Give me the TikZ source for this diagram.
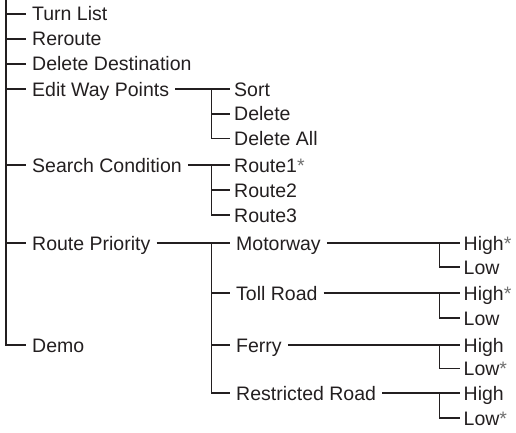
\documentclass[tikz,border=0pt]{standalone}
\usepackage{fontspec}
\setmainfont{Liberation Sans}
\definecolor{ink}{HTML}{231F20}
\definecolor{star}{HTML}{707070}
\newcommand{\mystar}{\textcolor{star}{*}}
\tikzset{
  lbl/.style={anchor=west, inner ysep=0pt, inner xsep=6pt, text height=14pt, text depth=0pt,
              font=\fontsize{19.5}{22}\selectfont, text=ink},
  lblb/.style={lbl, inner xsep=4pt},
  lblc/.style={lbl, inner xsep=3.5pt},
  wire/.style={draw=ink, line width=1.2pt},
}
\begin{document}
\begin{tikzpicture}[x=1pt,y=-1pt]
\useasboundingbox (0,0) rectangle (516,433);
% level 0
\node[lbl] (tl)   at (26,14)  {Turn List};
\node[lbl] (rr)   at (26,39)  {Reroute};
\node[lbl] (dd)   at (26,64)  {Delete Destination};
\node[lbl] (ewp)  at (26,89)  {Edit Way Points};
\node[lbl] (sc)   at (26,165) {Search Condition};
\node[lbl] (rp)   at (26,243) {Route Priority};
\node[lbl] (demo) at (26,345) {Demo};
% level 1
\node[lblb] (sort)   at (230,89)  {Sort};
\node[lblb] (del)    at (230,114) {Delete};
\node[lblb] (delall) at (230,138.5) {Delete All};
\node[lblb] (r1)     at (230,165) {Route1\mystar};
\node[lblb] (r2)     at (230,190) {Route2};
\node[lblb] (r3)     at (230,215) {Route3};
\node[lbl] (mw)  at (230,243) {Motorway};
\node[lbl] (toll) at (230,293) {Toll Road};
\node[lbl] (fer) at (230,345) {Ferry};
\node[lbl] (res) at (230,393) {Restricted Road};
% level 2
\node[lblc] (mwh) at (460,243) {High\mystar};
\node[lblc] (mwl) at (460,267) {Low};
\node[lblc] (toh) at (460,293) {High\mystar};
\node[lblc] (tol) at (460,318) {Low};
\node[lblc] (feh) at (460,345) {High};
\node[lblc] (fel) at (460,368.5) {Low\mystar};
\node[lblc] (reh) at (460,393) {High};
\node[lblc] (rel) at (460,418) {Low\mystar};
% junctions
\coordinate (root) at (6,0);
\coordinate (ja) at (211.5,0);
\coordinate (jb) at (439.5,0);
% connectors level 0
\draw[wire] (root) |- (demo.west);
\foreach \n in {tl,rr,dd,ewp,sc,rp}{\draw[wire] (root |- \n.west) -- (\n.west);}
% edit way points
\draw[wire] (ewp.east) -- (sort.west);
\draw[wire] (ja |- sort.west) |- (delall.west);
\draw[wire] (ja |- del.west) -- (del.west);
% search condition
\draw[wire] (sc.east) -- (r1.west);
\draw[wire] (ja |- r1.west) |- (r3.west);
\draw[wire] (ja |- r2.west) -- (r2.west);
% route priority
\draw[wire] (rp.east) -- (mw.west);
\draw[wire] (ja |- mw.west) |- (res.west);
\draw[wire] (ja |- toll.west) -- (toll.west);
\draw[wire] (ja |- fer.west) -- (fer.west);
% level 2
\foreach \a/\h/\l in {mw/mwh/mwl, toll/toh/tol, fer/feh/fel, res/reh/rel}{
  \draw[wire] (\a.east) -- (\h.west);
  \draw[wire] (jb |- \h.west) |- (\l.west);
}
\end{tikzpicture}
\end{document}
